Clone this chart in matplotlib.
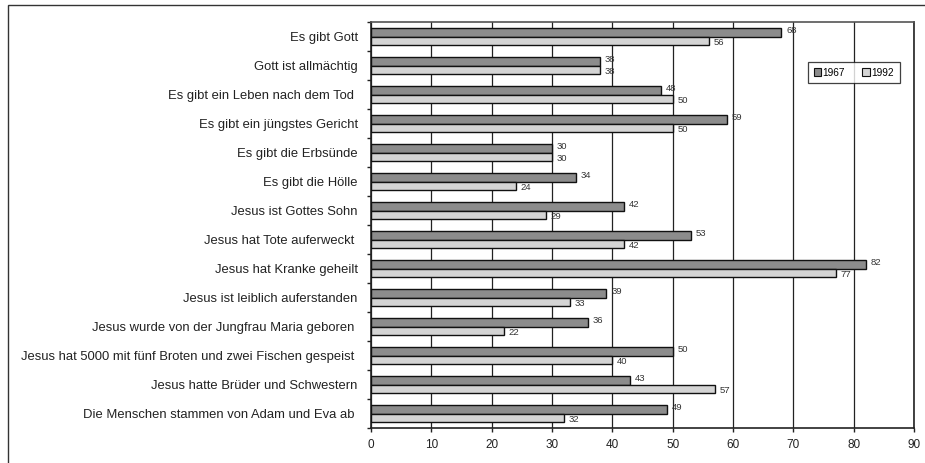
import matplotlib
matplotlib.use("Agg")
import matplotlib.pyplot as plt
import numpy as np
from matplotlib.patches import Rectangle

plt.rcParams['font.family'] = ['Liberation Sans', 'DejaVu Sans']

categories = [
    "Es gibt Gott",
    "Gott ist allmächtig",
    "Es gibt ein Leben nach dem Tod ",
    "Es gibt ein jüngstes Gericht",
    "Es gibt die Erbsünde",
    "Es gibt die Hölle",
    "Jesus ist Gottes Sohn",
    "Jesus hat Tote auferweckt ",
    "Jesus hat Kranke geheilt",
    "Jesus ist leiblich auferstanden",
    "Jesus wurde von der Jungfrau Maria geboren ",
    "Jesus hat 5000 mit fünf Broten und zwei Fischen gespeist ",
    "Jesus hatte Brüder und Schwestern",
    "Die Menschen stammen von Adam und Eva ab ",
]
values_1967 = [68, 38, 48, 59, 30, 34, 42, 53, 82, 39, 36, 50, 43, 49]
values_1992 = [56, 38, 50, 50, 30, 24, 29, 42, 77, 33, 22, 40, 57, 32]
series_labels = ["1967", "1992"]
x_ticks = [0, 10, 20, 30, 40, 50, 60, 70, 80, 90]

W, H = 925, 463
fig = plt.figure(figsize=(W / 100, H / 100), dpi=100)
ax = fig.add_axes([371 / W, 1 - 428 / H, (914 - 371) / W, (428 - 22) / H])

n = len(categories)
centers = np.arange(n)
bh = 0.3
c1, c2 = "#8c8c8c", "#d4d4d4"
b1 = ax.barh(centers - bh / 2, values_1967, height=bh, color=c1,
             edgecolor="#111111", linewidth=1.0, zorder=3, label=series_labels[0])
b2 = ax.barh(centers + bh / 2, values_1992, height=bh, color=c2,
             edgecolor="#111111", linewidth=1.0, zorder=3, label=series_labels[1])

for y, v in zip(centers - bh / 2, values_1967):
    ax.text(v + 0.8, y - 0.04, str(v), fontsize=6.8, color="#333333",
            va="center", ha="left", zorder=4)
for y, v in zip(centers + bh / 2, values_1992):
    ax.text(v + 0.8, y + 0.06, str(v), fontsize=6.8, color="#333333",
            va="center", ha="left", zorder=4)

ax.set_xlim(0, 90)
ax.set_ylim(n - 0.5, -0.5)
ax.set_xticks(x_ticks)
ax.set_xticklabels([str(t) for t in x_ticks], fontsize=8.5, color="#222222")
ax.xaxis.grid(True, color="#222222", linewidth=0.9, zorder=0)
ax.set_axisbelow(True)

ax.set_yticks(np.arange(-0.5, n, 1.0))
ax.set_yticklabels([])
ax.set_yticks(centers, minor=True)
ax.set_yticklabels(categories, minor=True, fontsize=9.4, color="#222222")
ax.tick_params(axis="y", which="minor", length=0, pad=9.5)
ax.tick_params(axis="y", which="major", length=3, width=1, color="#222222")
ax.tick_params(axis="x", length=3, width=1, color="#222222", pad=5)

for side in ["left", "bottom", "right", "top"]:
    ax.spines[side].set_color("#222222")
    ax.spines[side].set_linewidth(1.2)
ax.spines["top"].set_color("#555555")

leg = ax.legend(handles=[b1, b2], labels=series_labels, loc="upper left",
                bbox_to_anchor=((808 - 371) / (914 - 371), 1 - (62 - 22) / (428 - 22)),
                ncol=2, fontsize=7.3, frameon=True, fancybox=False,
                edgecolor="#111111", handlelength=0.7, handleheight=0.7,
                handletextpad=0.2, columnspacing=1.7, borderpad=0.55,
                borderaxespad=0)
leg.get_frame().set_linewidth(0.9)
for h in leg.legend_handles:
    h.set_edgecolor("#111111")
    h.set_linewidth(0.8)

# outer chart frame
fig.patches.append(Rectangle((8 / W, -0.1), 1.2, (1 - 5 / H) + 0.1,
                             transform=fig.transFigure, fill=False,
                             edgecolor="#333333", linewidth=1.0))

fig.savefig("out.png", dpi=100)
